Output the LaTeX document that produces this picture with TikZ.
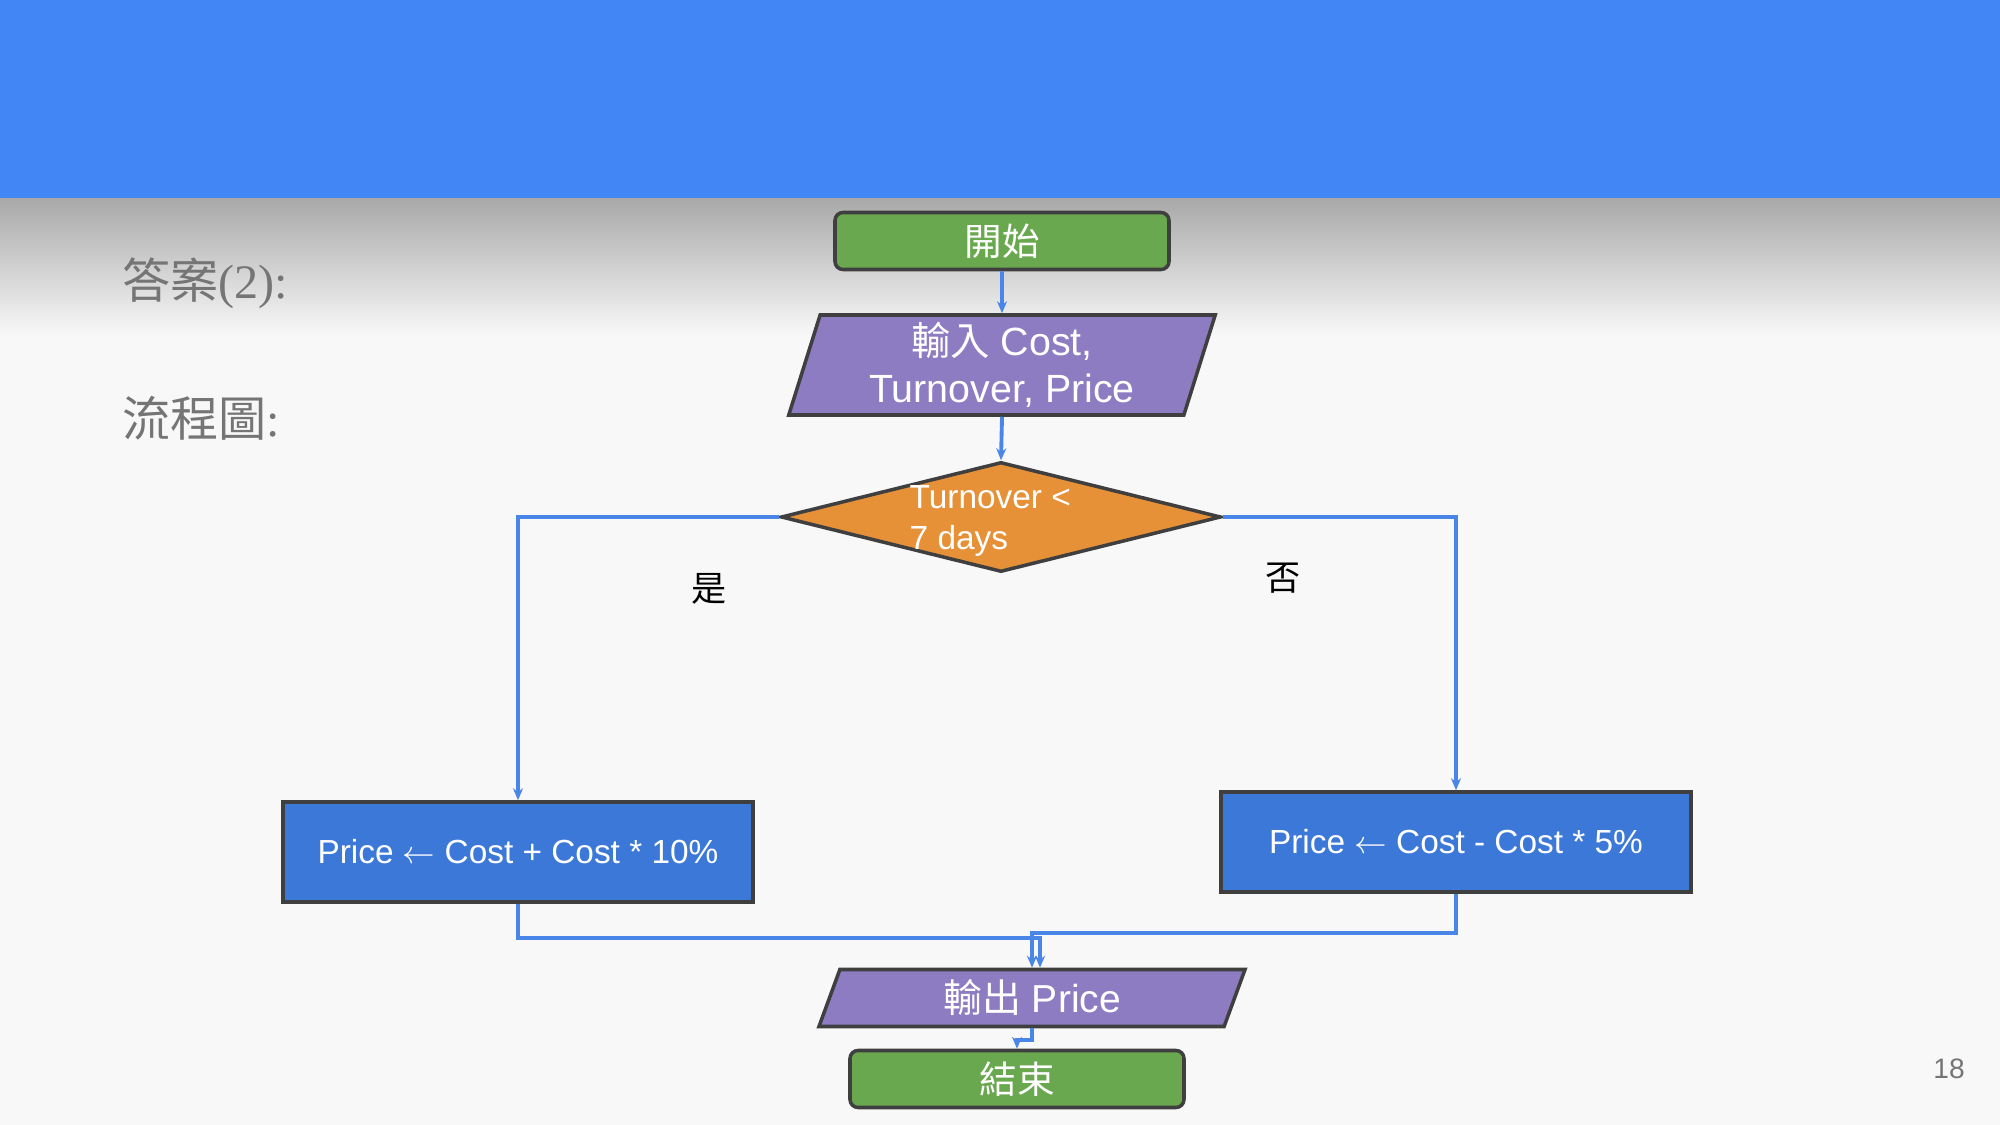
\documentclass[tikz,border=0pt]{standalone}
\usepackage{fontspec}
\setmainfont{Liberation Sans}
\newfontfamily\cjk{Noto Sans CJK TC}
\newfontfamily\serifnum{Liberation Serif}
\usetikzlibrary{shapes.geometric,arrows.meta}
\definecolor{headblue}{HTML}{4285F4}
\definecolor{bg}{HTML}{F8F8F8}
\definecolor{termgreen}{HTML}{6AA84F}
\definecolor{iopurple}{HTML}{8E7CC3}
\definecolor{decorange}{HTML}{E69138}
\definecolor{procblue}{HTML}{3C78D8}
\definecolor{edge}{HTML}{3F3F3F}
\definecolor{link}{HTML}{4A86E8}
\definecolor{titlegray}{HTML}{757575}
\begin{document}
\begin{tikzpicture}[x=0.1mm,y=-0.1mm,
    box/.style={draw=edge,line width=1pt,text=white,inner sep=0pt},
    term/.style={box,fill=termgreen,rounded corners=0.8mm,minimum width=33.4mm,minimum height=5.7mm,font=\fontsize{10.7}{12}\selectfont},
    io/.style={box,fill=iopurple,trapezium,trapezium left angle=75,trapezium right angle=105,trapezium stretches=true,align=center},
    proc/.style={box,fill=procblue,minimum width=47mm,minimum height=10mm,font=\fontsize{9.5}{11}\selectfont},
    decision/.style={box,fill=decorange,diamond,minimum width=44mm,minimum height=11mm},
    link/.style={draw=link,line width=1.1pt,-{Stealth[length=1.2mm,width=1mm]}},
    title/.style={anchor=west,text=titlegray,font=\fontsize{13.7}{16}\selectfont}]

\fill[bg] (0,0) rectangle (2000,1125);
\shade[top color=black!34,bottom color=bg] (0,198) rectangle (2000,335);
\fill[headblue] (0,0) rectangle (2000,198);

\node[title] (ans) at (110,283) {\cjk 答案\serifnum(2):};
\node[title] (chart) at (110,418) {\cjk 流程圖\serifnum:};

\node[term] (start) at (1002,241) {\cjk 開始};
\node[io,minimum width=43mm,minimum height=10mm,font=\fontsize{11.2}{13.4}\selectfont] (in) at (1002,365)
    {{\cjk 輸入} Cost,\\Turnover, Price};
\node[decision] (dec) at (1001,517) {};
\node[anchor=west,align=left,text=white,inner sep=0pt,font=\fontsize{9.5}{11.4}\selectfont] (cond) at (909,521)
    {Turnover <\\7 days};
\node[proc] (yes) at (518,852) {Price $\leftarrow$ Cost + Cost * 10\%};
\node[proc] (no) at (1456,842) {Price $\leftarrow$ Cost - Cost * 5\%};
\node[io,minimum width=42.7mm,minimum height=5.7mm,font=\fontsize{11.1}{13}\selectfont] (out) at (1032,998)
    {{\cjk 輸出} Price};
\node[term] (end) at (1017,1079) {\cjk 結束};

\node[font=\cjk\fontsize{10}{12}\selectfont] (yeslbl) at (709,589) {是};
\node[font=\cjk\fontsize{10}{12}\selectfont] (nolbl) at (1283,578) {否};
\node[text=titlegray,font=\fontsize{8}{10}\selectfont] (page) at (1949,1069) {18};

\draw[link] (start.south) -- (in.north);
\draw[link] (in.south) -- (dec.north);
\draw[link] (dec.west) -| (yes.north);
\draw[link] (dec.east) -| (no.north);
\draw[link] (yes.south) -- ++(0,34) -| ([xshift=0.8mm]out.north);
\draw[link] (no.south) -- ++(0,39) -| (out.north);
\draw[link] (out.south) -- ++(0,12) -| (end.north);
\end{tikzpicture}
\end{document}
